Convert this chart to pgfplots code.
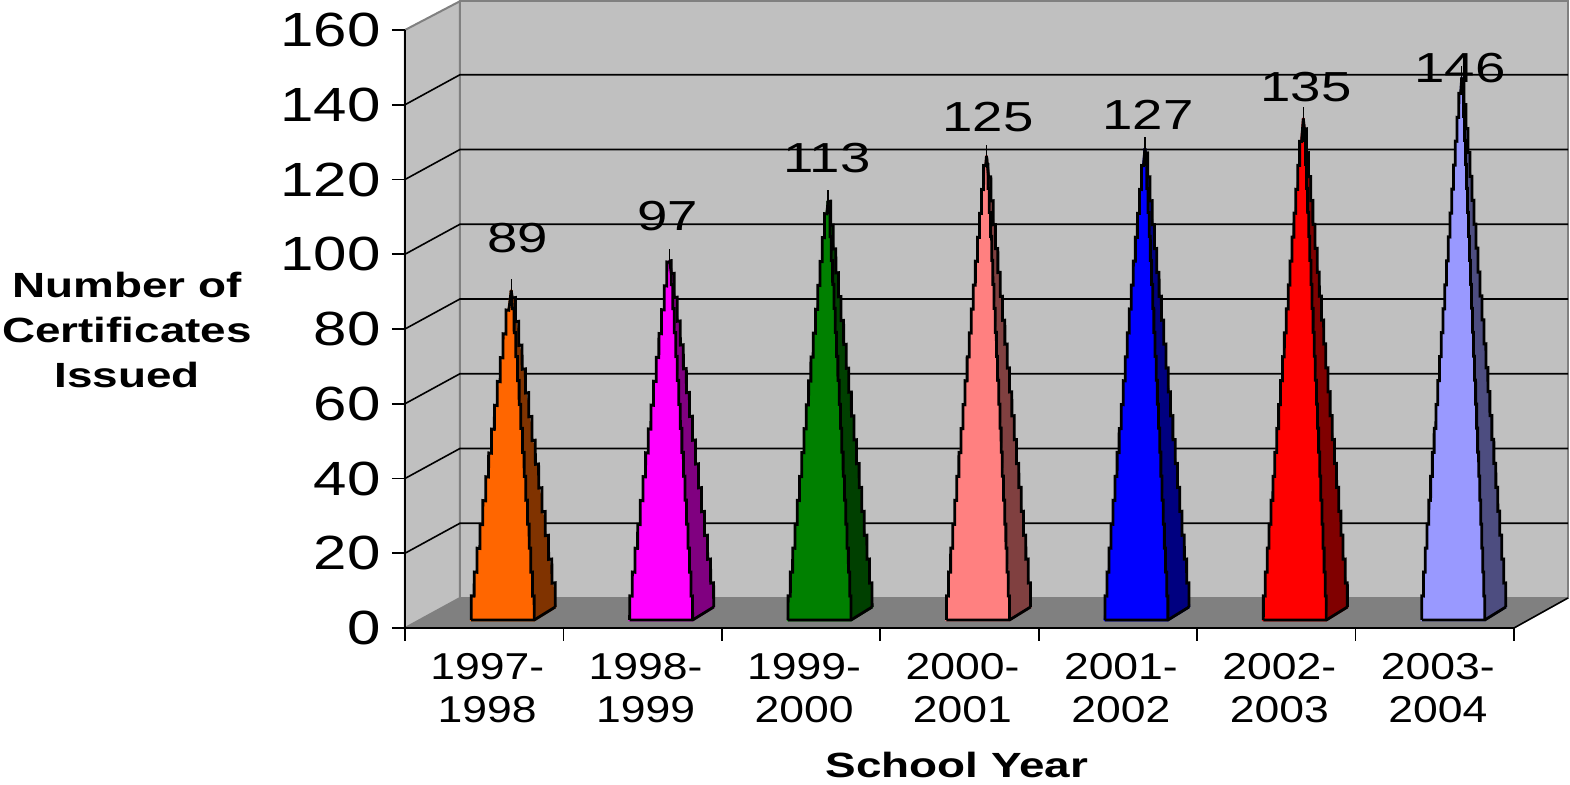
\documentclass[border=0pt]{standalone}
\usepackage{fontspec}
\usepackage{pgfplots}
\usetikzlibrary{decorations.pathmorphing}
\pgfplotsset{compat=1.18}
\setmainfont{Liberation Sans}
\newfontfamily\ytf[FakeStretch=1.25]{Liberation Sans}
\newfontfamily\xtf[FakeStretch=1.19]{Liberation Sans}
\newfontfamily\vlf[FakeStretch=1.3]{Liberation Sans}
\newfontfamily\blf[FakeStretch=1.31]{Liberation Sans Bold}
\definecolor{wall}{HTML}{C0C0C0}
\definecolor{floorc}{HTML}{808080}
\definecolor{c1}{HTML}{FF6600}\definecolor{d1}{HTML}{803300}
\definecolor{c2}{HTML}{FF00FF}\definecolor{d2}{HTML}{800080}
\definecolor{c3}{HTML}{008000}\definecolor{d3}{HTML}{004000}
\definecolor{c4}{HTML}{FF8080}\definecolor{d4}{HTML}{804040}
\definecolor{c5}{HTML}{0000FF}\definecolor{d5}{HTML}{000080}
\definecolor{c6}{HTML}{FF0000}\definecolor{d6}{HTML}{800000}
\definecolor{c7}{HTML}{9999FF}\definecolor{d7}{HTML}{4D4D80}
\pgfplotsset{
  face/.style={fill=#1,draw=#1,line width=1.3pt,line join=round,yshift=8pt,xshift=13.5pt},
  edge/.style={draw=black,line width=1.4pt,line join=miter,line cap=butt,yshift=8pt,xshift=13.5pt},
  stair/.style={edge,decorate,decoration={saw,segment length=12pt,amplitude=#1}},
  spike/.style={draw=black,line width=0.6pt,yshift=8pt,xshift=13.5pt},
  wallst/.style={fill=wall,draw=floorc,line width=1pt},
  gridst/.style={draw=black,line width=0.8pt,no marks},
}
\begin{document}
\begin{tikzpicture}
\useasboundingbox (0,0) rectangle (785pt,392.5pt);
\begin{axis}[
  at={(202.5pt,78.5pt)},anchor=south west,
  scale only axis,width=554.5pt,height=299pt,
  xmin=0,xmax=7,ymin=0,ymax=160,
  clip=false,axis on top,
  axis lines=left,axis line style={-,line width=0.9pt},
  tick style={black,line width=0.9pt},
  tick align=outside,major tick length=6.5pt,
  ytick={0,20,...,160},
  /pgf/number format/assume math mode=true,
  yticklabel style={font=\fontsize{24}{24}\selectfont\ytf,inner sep=0pt,xshift=-5.5pt},
  xtick={0,...,7},xticklabels={},
  extra x ticks={0.5,1.5,2.5,3.5,4.5,5.5,6.5},
  extra x tick labels={1997-\\1998,1998-\\1999,1999-\\2000,2000-\\2001,2001-\\2002,2002-\\2003,2003-\\2004},
  extra x tick style={major tick length=0pt},
  xticklabel style={align=center,font=\fontsize{18.7}{21.5}\selectfont\xtf,inner sep=0pt,yshift=-12.5pt,xshift=1.5pt},
  xlabel={School Year},
  ylabel={Number of\\Certificates\\Issued},
  every axis x label/.style={at={(axis cs:3.484,-36.66)},anchor=center,font=\fontsize{17.5}{17.5}\selectfont\blf},
  every axis y label/.style={at={(axis cs:-1.755,79.7)},anchor=center,align=center,font=\fontsize{17.5}{22.5}\selectfont\blf},
]
% walls and floor
\addplot[wallst] coordinates {(0,0) (0,160) (0.347,167.7) (0.347,8.03)} -- cycle;
\addplot[wallst] coordinates {(0.347,8.03) (0.347,167.7) (7.341,167.7) (7.341,8.03)} -- cycle;
\addplot[fill=floorc,draw=none] coordinates {(0,0) (0.347,8.03) (7.341,8.03) (7,0)} -- cycle;
\addplot[draw=black,line width=0.8pt] coordinates {(7,0) (7.341,8.03)};
% gridlines
\addplot[gridst] coordinates {(0,20) (0.347,28.03) (7.341,28.03)};
\addplot[gridst] coordinates {(0,40) (0.347,48.03) (7.341,48.03)};
\addplot[gridst] coordinates {(0,60) (0.347,68.03) (7.341,68.03)};
\addplot[gridst] coordinates {(0,80) (0.347,88.03) (7.341,88.03)};
\addplot[gridst] coordinates {(0,100) (0.347,108.03) (7.341,108.03)};
\addplot[gridst] coordinates {(0,120) (0.347,128.03) (7.341,128.03)};
\addplot[gridst] coordinates {(0,140) (0.347,148.03) (7.341,148.03)};
% pyramid 1
\addplot[face=d1] coordinates {(0.645,-2.14) (0.778,1.34) (0.5,86)} -- cycle;
\addplot[face=c1] coordinates {(0.2475,-2.14) (0.645,-2.14) (0.5,86)} -- cycle;
\addplot[spike] coordinates {(0.5,84) (0.5,89)};
\addplot[stair=1.41pt] coordinates {(0.2475,-2.14) (0.5,86)};
\addplot[stair=-0.81pt] coordinates {(0.645,-2.14) (0.5,86)};
\addplot[stair=-1.61pt] coordinates {(0.778,1.34) (0.5,86)};
\addplot[edge] coordinates {(0.2475,-2.14) (0.645,-2.14) (0.778,1.34)};
% pyramid 2
\addplot[face=d2] coordinates {(1.645,-2.14) (1.778,1.34) (1.5,94)} -- cycle;
\addplot[face=c2] coordinates {(1.2475,-2.14) (1.645,-2.14) (1.5,94)} -- cycle;
\addplot[spike] coordinates {(1.5,92) (1.5,97)};
\addplot[stair=1.30pt] coordinates {(1.2475,-2.14) (1.5,94)};
\addplot[stair=-0.75pt] coordinates {(1.645,-2.14) (1.5,94)};
\addplot[stair=-1.48pt] coordinates {(1.778,1.34) (1.5,94)};
\addplot[edge] coordinates {(1.2475,-2.14) (1.645,-2.14) (1.778,1.34)};
% pyramid 3
\addplot[face=d3] coordinates {(2.645,-2.14) (2.778,1.34) (2.5,110)} -- cycle;
\addplot[face=c3] coordinates {(2.2475,-2.14) (2.645,-2.14) (2.5,110)} -- cycle;
\addplot[spike] coordinates {(2.5,108) (2.5,113)};
\addplot[stair=1.12pt] coordinates {(2.2475,-2.14) (2.5,110)};
\addplot[stair=-0.64pt] coordinates {(2.645,-2.14) (2.5,110)};
\addplot[stair=-1.27pt] coordinates {(2.778,1.34) (2.5,110)};
\addplot[edge] coordinates {(2.2475,-2.14) (2.645,-2.14) (2.778,1.34)};
% pyramid 4
\addplot[face=d4] coordinates {(3.645,-2.14) (3.778,1.34) (3.5,122)} -- cycle;
\addplot[face=c4] coordinates {(3.2475,-2.14) (3.645,-2.14) (3.5,122)} -- cycle;
\addplot[spike] coordinates {(3.5,120) (3.5,125)};
\addplot[stair=1.01pt] coordinates {(3.2475,-2.14) (3.5,122)};
\addplot[stair=-0.58pt] coordinates {(3.645,-2.14) (3.5,122)};
\addplot[stair=-1.15pt] coordinates {(3.778,1.34) (3.5,122)};
\addplot[edge] coordinates {(3.2475,-2.14) (3.645,-2.14) (3.778,1.34)};
% pyramid 5
\addplot[face=d5] coordinates {(4.645,-2.14) (4.778,1.34) (4.5,124)} -- cycle;
\addplot[face=c5] coordinates {(4.2475,-2.14) (4.645,-2.14) (4.5,124)} -- cycle;
\addplot[spike] coordinates {(4.5,122) (4.5,127)};
\addplot[stair=1.00pt] coordinates {(4.2475,-2.14) (4.5,124)};
\addplot[stair=-0.57pt] coordinates {(4.645,-2.14) (4.5,124)};
\addplot[stair=-1.13pt] coordinates {(4.778,1.34) (4.5,124)};
\addplot[edge] coordinates {(4.2475,-2.14) (4.645,-2.14) (4.778,1.34)};
% pyramid 6
\addplot[face=d6] coordinates {(5.645,-2.14) (5.778,1.34) (5.5,132)} -- cycle;
\addplot[face=c6] coordinates {(5.2475,-2.14) (5.645,-2.14) (5.5,132)} -- cycle;
\addplot[spike] coordinates {(5.5,130) (5.5,135)};
\addplot[stair=0.94pt] coordinates {(5.2475,-2.14) (5.5,132)};
\addplot[stair=-0.54pt] coordinates {(5.645,-2.14) (5.5,132)};
\addplot[stair=-1.06pt] coordinates {(5.778,1.34) (5.5,132)};
\addplot[edge] coordinates {(5.2475,-2.14) (5.645,-2.14) (5.778,1.34)};
% pyramid 7
\addplot[face=d7] coordinates {(6.645,-2.14) (6.778,1.34) (6.5,143)} -- cycle;
\addplot[face=c7] coordinates {(6.2475,-2.14) (6.645,-2.14) (6.5,143)} -- cycle;
\addplot[spike] coordinates {(6.5,141) (6.5,146)};
\addplot[stair=0.87pt] coordinates {(6.2475,-2.14) (6.5,143)};
\addplot[stair=-0.50pt] coordinates {(6.645,-2.14) (6.5,143)};
\addplot[stair=-0.98pt] coordinates {(6.778,1.34) (6.5,143)};
\addplot[edge] coordinates {(6.2475,-2.14) (6.645,-2.14) (6.778,1.34)};
% value labels
\addplot[only marks,mark=none,point meta=explicit symbolic,nodes near coords,
  every node near coord/.append style={anchor=center,inner sep=0pt,yshift=0pt,font=\fontsize{21}{21}\selectfont\vlf}]
  coordinates {(0.713,104.35)[89] (1.660,110.2)[97] (2.664,125.75)[113] (3.680,136.7)[125] (4.690,137.25)[127] (5.687,144.75)[135] (6.659,149.8)[146]};
\end{axis}
\end{tikzpicture}
\end{document}
